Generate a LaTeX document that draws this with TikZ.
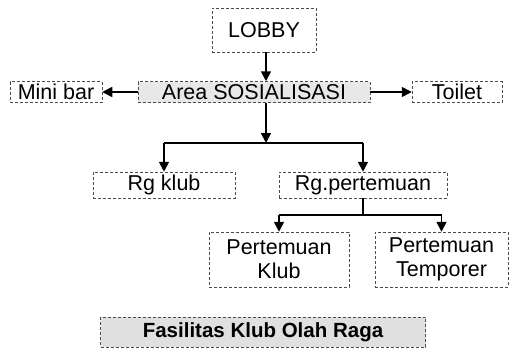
\documentclass[tikz,border=0pt]{standalone}
\usepackage{fontspec}
\setmainfont{Liberation Sans}
\usetikzlibrary{arrows.meta}
\begin{document}
\begin{tikzpicture}[x=1pt,y=-1pt,
  box/.style={draw=black!70, densely dashed, line width=0.5pt, inner sep=0pt, align=center,
    font=\fontsize{21.5}{24}\selectfont},
  conn/.style={line width=1.7pt, black},
  arr/.style={conn, -{Triangle[length=10pt,width=10pt]}}]
\useasboundingbox (0,0) rectangle (510,348);
\node[box, minimum width=104pt, minimum height=44pt] (lobby) at (264,30) {LOBBY};
\node[box, fill=black!9, minimum width=232pt, minimum height=21pt] (area) at (254,92) {Area SOSIALISASI};
\node[box, minimum width=92pt, minimum height=21pt] (mini) at (56,92) {Mini bar};
\node[box, minimum width=90pt, minimum height=21pt] (toilet) at (457,92) {Toilet};
\node[box, minimum width=142pt, minimum height=26pt] (klub) at (164,185) {Rg klub};
\node[box, minimum width=168pt, minimum height=26pt] (pert) at (363,185) {Rg.pertemuan};
\node[box, minimum width=140pt, minimum height=55pt] (pk) at (279,259.5) {Pertemuan\\Klub};
\node[box, minimum width=133pt, minimum height=55pt] (pt) at (441.5,259.5) {Pertemuan\\Temporer};
\node[box, fill=black!12, minimum width=325pt, minimum height=30pt, font=\fontsize{20.5}{24}\selectfont\bfseries] (fas) at (263,332) {Fasilitas Klub Olah Raga};
\coordinate (b1) at (266,143);
\coordinate (b2) at (363,215);
\draw[arr] (lobby.south -| b1) -- (area.north -| b1);
\draw[arr] (area.west) -- (mini.east);
\draw[arr] (area.east) -- (toilet.west);
\draw[arr] (area.south -| b1) -- (b1);
\draw[conn] (b1 -| klub.north) -- (b1 -| pert.north);
\draw[arr] (b1 -| klub.north) -- (klub.north);
\draw[arr] (b1 -| pert.north) -- (pert.north);
\draw[conn] (pert.south) -- (b2);
\draw[conn] (b2 -| pk.north) -- (b2 -| pt.north);
\draw[arr] (b2 -| pk.north) -- (pk.north);
\draw[arr] (b2 -| pt.north) -- (pt.north);
\end{tikzpicture}
\end{document}
